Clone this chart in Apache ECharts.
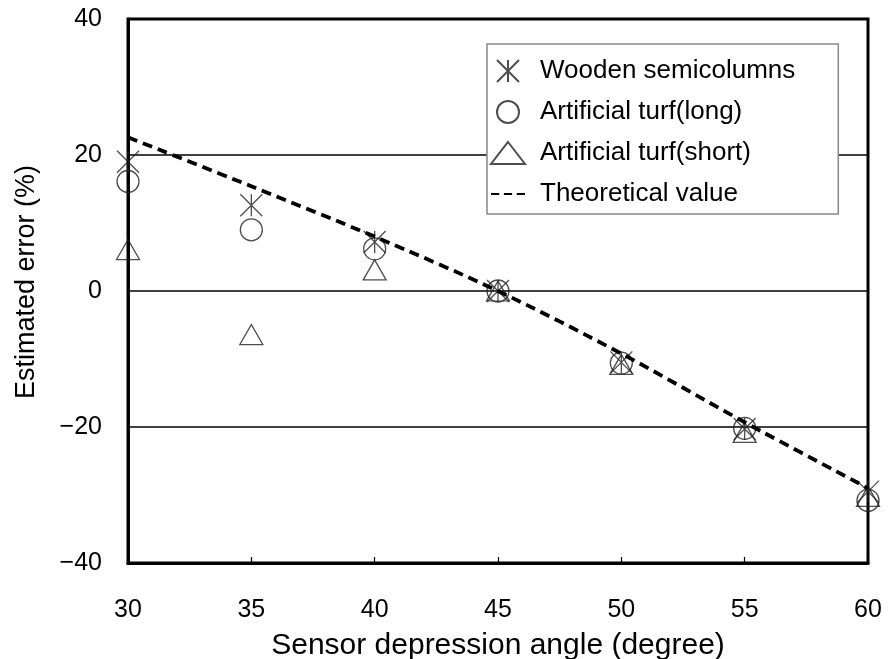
<!DOCTYPE html>
<html>
<head>
<meta charset="utf-8">
<script src="https://cdn.jsdelivr.net/npm/echarts@6/dist/echarts.min.js"></script>
<style>
  html, body { margin: 0; padding: 0; background: #fff; }
  #chart { width: 888px; height: 659px; }
</style>
</head>
<body>
<div id="chart"></div>
<script>
// depression angles (degree)
const angles = [30, 35, 40, 45, 50, 55, 60];

// estimated error (%)
const woodenSemicolumns = [19.0, 12.6, 7.2, 0, -10.5, -20.3, -29.5];
const turfLong = [16.1, 9.0, 6.2, 0, -10.6, -20.2, -30.8];
const turfShort = [6.1, -6.4, 3.1, 0, -10.8, -20.8, -30.2];
const theoretical = [22.6, 15.4, 8.0, 0, -9.2, -19.3, -29.0];

const seriesNames = [
  "Wooden semicolumns",
  "Artificial turf(long)",
  "Artificial turf(short)",
  "Theoretical value",
];

const FONT = "Liberation Sans";
const asterisk = "path://M0,0L20,20M20,0L0,20M10,0L10,20";
// three short dashes, like the "---" in the original legend
const dashIcon = "path://M0,0h9v2h-9zM14,0h9v2h-9zM28,0h9v2h-9z";

const pairs = (ys) => angles.map((x, i) => [x, ys[i]]);
const minus = (v) => String(v).replace("-", "\u2212");

const chart = echarts.init(document.getElementById("chart"));

const hollow = { color: "transparent", borderColor: "#222", borderWidth: 1.3 };

chart.setOption({
  animation: false,
  backgroundColor: "#fff",
  grid: {
    left: 128,
    right: 20,
    top: 19,
    bottom: 96,
    outerBoundsMode: "none",
    show: true,
    borderColor: "#000",
    borderWidth: 3,
  },
  xAxis: {
    type: "value",
    min: 30,
    max: 60,
    interval: 5,
    name: "Sensor depression angle (degree)",
    nameLocation: "middle",
    nameGap: 68,
    nameTextStyle: { fontFamily: FONT, fontSize: 30, color: "#000" },
    axisLine: { onZero: false, lineStyle: { color: "#000", width: 3 } },
    axisTick: { inside: true, length: 6, lineStyle: { color: "#000", width: 1.2 } },
    axisLabel: { fontFamily: FONT, fontSize: 25, color: "#000", margin: 35 },
    splitLine: { show: false },
  },
  yAxis: {
    type: "value",
    min: -40,
    max: 40,
    interval: 20,
    name: "Estimated error (%)",
    nameLocation: "middle",
    nameGap: 88,
    nameTextStyle: { fontFamily: FONT, fontSize: 27, color: "#000", padding: [0, 0, 0, 18] },
    axisLine: { onZero: false, lineStyle: { color: "#000", width: 3 } },
    axisTick: { show: false },
    axisLabel: { fontFamily: FONT, fontSize: 25, color: "#000", margin: 26, formatter: minus },
    splitLine: { lineStyle: { color: "#000", width: 1.5 } },
  },
  legend: {
    data: [
      seriesNames[0],
      seriesNames[1],
      seriesNames[2],
      { name: seriesNames[3], icon: dashIcon, lineStyle: { opacity: 0 }, itemStyle: { color: "#000" } },
    ],
    orient: "vertical",
    left: 487,
    top: 44,
    padding: [14, 43, 7, 3],
    itemGap: 15,
    itemWidth: 34,
    itemHeight: 22,
    symbolKeepAspect: true,
    backgroundColor: "#fff",
    borderColor: "#888",
    borderWidth: 1.5,
    textStyle: { fontFamily: FONT, fontSize: 26, color: "#000", padding: [0, 0, 0, 10] },
  },
  series: [
    {
      name: seriesNames[0],
      type: "scatter",
      data: pairs(woodenSemicolumns),
      symbol: asterisk,
      symbolSize: 22,
      symbolKeepAspect: true,
      itemStyle: hollow,
      z: 3,
    },
    {
      name: seriesNames[1],
      type: "scatter",
      data: pairs(turfLong),
      symbol: "circle",
      symbolSize: 22,
      symbolKeepAspect: true,
      itemStyle: hollow,
      z: 3,
    },
    {
      name: seriesNames[2],
      type: "scatter",
      data: pairs(turfShort),
      symbol: "triangle",
      symbolSize: [23, 20],
      symbolKeepAspect: true,
      itemStyle: hollow,
      z: 3,
    },
    {
      name: seriesNames[3],
      type: "line",
      data: pairs(theoretical),
      smooth: 0.3,
      symbol: "none",
      lineStyle: { color: "#000", width: 3.8, type: [10, 6] },
      itemStyle: { color: "#000" },
      z: 4,
    },
  ],
});
</script>
</body>
</html>
